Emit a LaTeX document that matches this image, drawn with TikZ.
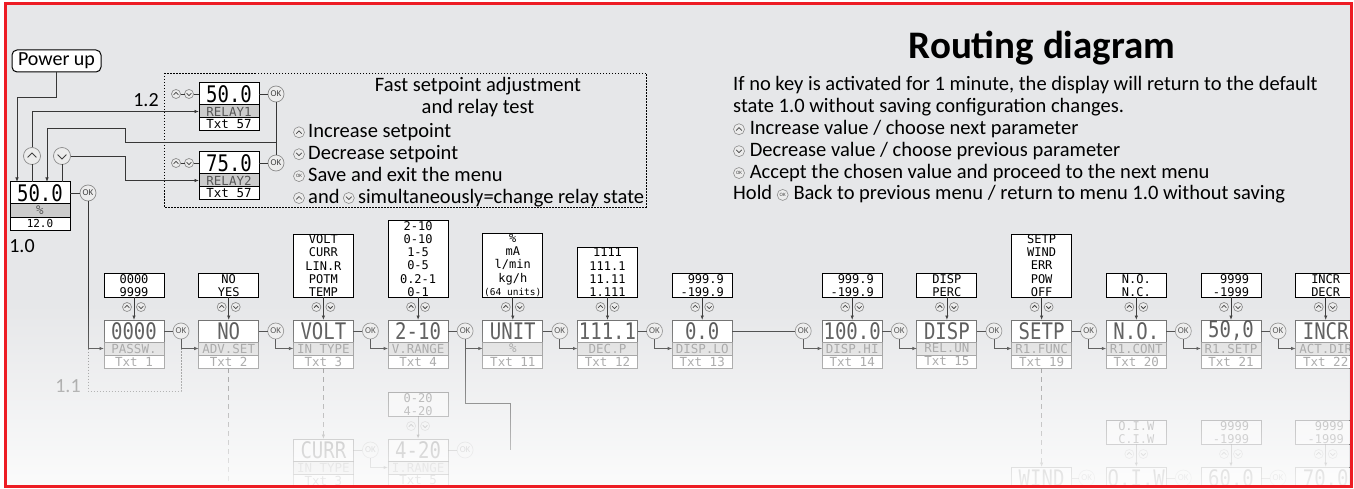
\documentclass[tikz,border=0pt]{standalone}
\usepackage{fontspec}
\setmainfont{Carlito}
\newfontfamily\lcdfam{DejaVu Sans Mono}
\usepackage{xcolor}
\usetikzlibrary{positioning,arrows.meta,calc,fadings}
\definecolor{bggray}{RGB}{230,231,233}
\definecolor{framered}{RGB}{237,28,36}
\definecolor{wiregray}{RGB}{55,55,55}
\definecolor{keygray}{RGB}{140,140,140}
\definecolor{keyfill}{RGB}{236,236,236}
\definecolor{subfill}{RGB}{204,204,204}
\definecolor{subtext}{RGB}{85,85,85}
\tikzfading[name=lowfade, top color=transparent!100, middle color=transparent!55, bottom color=transparent!15]

\newcommand{\lcdbig}{\lcdfam\fontsize{19}{19}\selectfont}
\newcommand{\lcdsmall}{\lcdfam\fontsize{12.5}{13}\selectfont}
\newcommand{\lcdopt}{\lcdfam\fontsize{12}{13.2}\selectfont}
\newcommand{\notefont}{\fontsize{20.5}{21.9}\selectfont}

% inline key symbols (canvas units)
\newcommand{\icup}{\tikz[baseline=-5pt]{\draw[keygray,fill=keyfill,line width=0.6pt] (0pt,0pt) circle[radius=5.5pt];
  \draw[black!75,line width=0.7pt] (-2.8pt,-1.3pt) -- (0pt,1.5pt) -- (2.8pt,-1.3pt);}}
\newcommand{\icdown}{\tikz[baseline=-5pt]{\draw[keygray,fill=keyfill,line width=0.6pt] (0pt,0pt) circle[radius=5.5pt];
  \draw[black!75,line width=0.7pt] (-2.8pt,1.3pt) -- (0pt,-1.5pt) -- (2.8pt,1.3pt);}}
\newcommand{\icok}{\tikz[baseline=-5pt]{\node[circle,draw=keygray,fill=keyfill,line width=0.6pt,minimum size=11pt,
  inner sep=0pt,anchor=center,text=black!75,font=\fontsize{5}{5}\selectfont] (okicon) at (0pt,0pt) {OK};}}

% display: [gap to OK]{name}{placement}{value}{label}{txt}
\newcommand{\lcd}[6][9pt]{%
  \node[lcdmain, #3] (#2) {\scalebox{1}[1.2]{#4}};
  \node[lcdsub, below=0pt of #2] (#2s) {#5};
  \node[lcdtxt, below=0pt of #2s] (#2t) {#6};
  \node[okkey, right=#1 of #2] (#2k) {OK};
  \draw[wire] (#2) -- (#2k);}
% choice list above a display
\newcommand{\opts}[3][]{%
  \node[optbox, above=23pt of #2, #1] (#2o) {#3};
  \node[upkey=9] (#2u) at ([shift={(-7,10)}]#2o.south) {};
  \node[dnkey=9] (#2v) at ([shift={(7,10)}]#2o.south) {};
  \draw[arr] (#2o) -- (#2);}

\begin{document}
\begin{tikzpicture}[x=1pt, y=-1pt,
  lcdmain/.style={draw, line width=1, fill=white, minimum width=60, minimum height=22,
    inner sep=0, outer sep=0, font=\lcdbig},
  lcdsub/.style={draw, line width=1, fill=subfill, minimum width=60, minimum height=13,
    inner sep=0, outer sep=0, font=\lcdsmall, text=subtext},
  lcdtxt/.style={draw, line width=1, fill=white, minimum width=60, minimum height=13,
    inner sep=0, outer sep=0, font=\lcdsmall},
  optbox/.style={draw, line width=1, fill=white, minimum width=60, inner xsep=1,
    inner ysep=0.5, outer sep=0, align=center, font=\lcdopt},
  okkey/.style={circle, draw=keygray, fill=keyfill, line width=0.7, minimum size=16,
    inner sep=0, outer sep=0, text=black!75, font=\fontsize{9}{9}\selectfont},
  upkey/.style={circle, draw=keygray, fill=keyfill, line width=0.7, minimum size=#1,
    inner sep=0, outer sep=0, path picture={\draw[black!75, line width=0.8]
    ([shift={(-0.26*#1,0.08*#1)}]path picture bounding box.center) -- ++(0.26*#1,-0.26*#1) -- ++(0.26*#1,0.26*#1);}},
  dnkey/.style={circle, draw=keygray, fill=keyfill, line width=0.7, minimum size=#1,
    inner sep=0, outer sep=0, path picture={\draw[black!75, line width=0.8]
    ([shift={(-0.26*#1,-0.08*#1)}]path picture bounding box.center) -- ++(0.26*#1,0.26*#1) -- ++(0.26*#1,-0.26*#1);}},
  wire/.style={draw=wiregray, line width=0.8},
  arr/.style={wire, -{Latex[length=4.5pt,width=3.5pt]}},
  dashwire/.style={draw=gray, line width=0.8, dash pattern=on 5pt off 4pt},
  dotwire/.style={draw=gray, line width=0.8, dash pattern=on 1.5pt off 1.5pt},
  note/.style={font=\notefont, inner sep=0, align=left},
  lbl/.style={font=\fontsize{20}{20}\selectfont, inner sep=0},
  dimrow/.style={lcdmain/.append style={draw=black!60, text=black!72},
    lcdsub/.append style={draw=black!45, text=black!42, fill=black!13},
    lcdtxt/.append style={draw=black!45, text=black!45}},
]
\useasboundingbox (0,0) rectangle (1354,489);
\begin{scope}
\clip (5,4) rectangle (1351,486);
\fill[bggray] (5,4) rectangle (1351,486);

% fast setpoint window
\draw[dotwire, draw=black] (164,73) rectangle (646,207);
\node[note, align=center] (fasthead) at (478,97) {Fast setpoint adjustment\\and relay test};
\node[note, anchor=north west] (fastkeys) at (293,123) {\icup\,Increase setpoint\\
  \icdown\,Decrease setpoint\\ \icok\,Save and exit the menu\\
  \icup\,and\,\icdown\,simultaneously=change relay state};

% help text
\node[font=\fontsize{39}{39}\selectfont\bfseries, inner sep=0] (title) at (1042,48) {Routing diagram};
\node[note, anchor=north west] (help) at (733,76) {If no key is activated for 1 minute, the display will return to the default\\
  state 1.0 without saving configuration changes.\\
  \icup\hspace{5pt}Increase value / choose next parameter\\
  \icdown\hspace{5pt}Decrease value / choose previous parameter\\
  \icok\hspace{5pt}Accept the chosen value and proceed to the next menu\\
  Hold \icok\hspace{5pt}Back to previous menu / return to menu 1.0 without saving};

% power up and default display
\node[draw, line width=1, fill=white, rounded corners=5, minimum width=89, minimum height=22,
  inner sep=0, font=\fontsize{20}{20}\selectfont] (pw) at (56.5,61) {Power up};
\lcd[10pt]{d0}{anchor=north west, at={(10,182)}}{50.0}{\%}{\fontsize{11}{11}\selectfont 12.0}
\node[lbl] (lab10) at (22,246) {1.0};
\node[upkey=17] (d0u) at ([shift={(22,-26)}]d0.north west) {};
\node[dnkey=17] (d0v) at ([shift={(52,-26)}]d0.north west) {};

% relay test
\lcd{r1}{anchor=north west, at={(199,83)}}{50.0}{RELAY1}{Txt 57}
\lcd{r2}{below=21pt of r1t}{75.0}{RELAY2}{Txt 57}
\node[upkey=9] (r1u) at ([xshift=-23pt]r1.west) {};
\node[dnkey=9] (r1v) at ([xshift=-10pt]r1.west) {};
\node[upkey=9] (r2u) at ([xshift=-23pt]r2.west) {};
\node[dnkey=9] (r2v) at ([xshift=-10pt]r2.west) {};
\draw[wire] (r1u) -- (r1v) -- (r1);
\draw[wire] (r2u) -- (r2v) -- (r2);
\node[lbl] (lab12) at (146,100) {1.2};

\draw[arr] (pw) -- (pw |- 0,97) -| ([xshift=7pt]d0.north west);
\draw[wire] (d0u) -- (d0u |- d0.north);
\draw[wire] (d0v) -- (d0v |- d0.north);
\draw[arr] (d0u) |- (r1s.west);
\draw[arr] (d0v) -- ++(63,0) |- (r2s.west);
\draw[wire] (r1k) -- (r2k);
\draw[arr] (r1k |- 0,142) -| (125,128) -| ([xshift=37pt]d0.north west);

% menu row
\begin{scope}[dimrow]
\lcd{d1}{anchor=north west, at={(104,320)}}{0000}{PASSW.}{Txt 1}
\opts{d1}{0000\\9999}
\lcd{d2}{right=34.7pt of d1}{NO}{ADV.SET}{Txt 2}
\opts{d2}{NO\\YES}
\lcd{d3}{right=34.7pt of d2}{VOLT}{IN TYPE}{Txt 3}
\opts{d3}{VOLT\\CURR\\LIN.R\\POTM\\TEMP}
\lcd{d4}{right=34.7pt of d3}{2-10}{V.RANGE}{Txt 4}
\opts{d4}{2-10\\0-10\\1-5\\0-5\\0.2-1\\0-1}
\lcd{d5}{right=34.7pt of d4}{UNIT}{\%}{Txt 11}
\opts{d5}{\%\\mA\\l/min\\kg/h\\{\fontsize{9.5}{13}\selectfont(64 units)}}
\lcd{d6}{right=34.7pt of d5}{111.1}{DEC.P}{Txt 12}
\opts{d6}{1111\\111.1\\11.11\\1.111}
\lcd[63pt]{d7}{right=34.7pt of d6}{0.0}{DISP.LO}{Txt 13}
\opts[align=right]{d7}{999.9\\-199.9}
\lcd{d8}{right=90pt of d7}{100.0}{DISP.HI}{Txt 14}
\opts[align=right]{d8}{999.9\\-199.9}
\lcd{d9}{right=34.7pt of d8}{DISP}{REL.UN}{Txt 15}
\opts{d9}{DISP\\PERC}
\lcd{d10}{right=34.7pt of d9}{SETP}{R1.FUNC}{Txt 19}
\opts{d10}{SETP\\WIND\\ERR\\POW\\OFF}
\lcd{d11}{right=34.7pt of d10}{N.O.}{R1.CONT}{Txt 20}
\opts{d11}{N.O.\\N.C.}
\lcd{d12}{right=34.7pt of d11}{50,0}{R1.SETP}{Txt 21}
\opts[align=right]{d12}{9999\\-1999}
\lcd{d13}{right=34.7pt of d12}{INCR}{ACT.DIR}{Txt 22}
\opts{d13}{INCR\\DECR}
\end{scope}

\foreach \k/\s in {d0k/d1s,d1k/d2s,d2k/d3s,d3k/d4s,d4k/d5s,d5k/d6s,d6k/d7s,
  d7k/d8s,d8k/d9s,d9k/d10s,d10k/d11s,d11k/d12s,d12k/d13s}
  \draw[arr] (\k) |- (\s.west);
\draw[dotwire] (d0k |- d1s) -- (d0k |- 0,391) -| (d1k |- d1s);
\node[lbl, text=gray] (lab11) at (68,386) {1.1};

% lower branches
\begin{scope}[opacity=0.45]
\lcd{c3}{below=71pt of d3t}{CURR}{IN TYPE}{Txt 3}
\lcd{c4}{right=34.7pt of c3}{4-20}{I.RANGE}{Txt 5}
\opts{c4}{0-20\\4-20}
\draw[arr] (c3k) |- (c4s.west);
\lcd[7pt]{w10}{below=99pt of d10t}{WIND}{}{}
\lcd{w11}{right=34.7pt of w10}{O.I.W}{}{}
\opts{w11}{O.I.W\\C.I.W}
\lcd{w12}{right=34.7pt of w11}{60.0}{}{}
\opts[align=right]{w12}{9999\\-1999}
\lcd{w13}{right=34.7pt of w12}{70.0}{}{}
\opts[align=right]{w13}{9999\\-1999}
\end{scope}
\draw[dashwire] (d2t) -- (d2t |- 0,486);
\draw[dashwire, -{Latex[length=4.5pt,width=3.5pt]}] (d3t) -- (c3);
\draw[dashwire, -{Latex[length=4.5pt,width=3.5pt]}] (d10t) -- (w10);
\coordinate (unitdrop) at (510,450);
\draw[wire] (d4k) -- (d4k |- 0,403) -| (unitdrop);

\fill[white, path fading=lowfade] (5,300) rectangle (1351,486);
\end{scope}
\draw[framered, line width=3] (5,4) rectangle (1351,486);
\end{tikzpicture}
\end{document}
